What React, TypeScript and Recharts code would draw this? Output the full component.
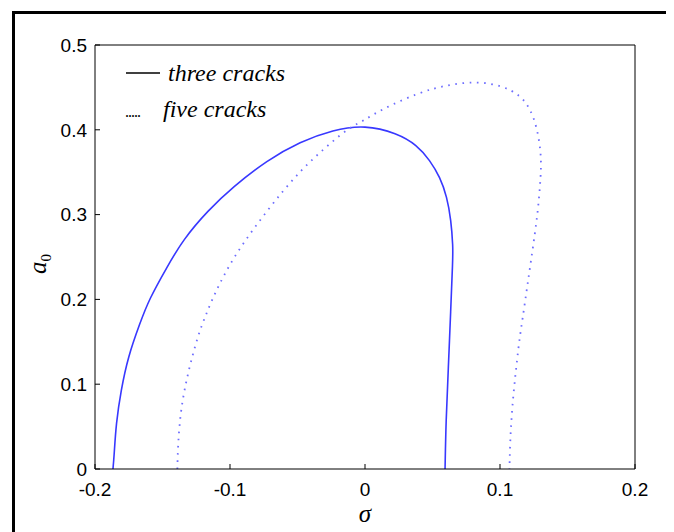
import { LineChart, Line, XAxis, YAxis } from 'recharts'

// three cracks (solid), traced from left foot over the peak to right foot
const threeSigma = [
  -0.1867, -0.1859, -0.1844, -0.1807, -0.1756, -0.1667, -0.1600, -0.1467, -0.135, -0.1163,
  -0.0978, -0.0726, -0.048, -0.0237, 0, 0.0237, 0.0385, 0.0481, 0.0556, 0.0607, 0.0637,
  0.0652, 0.065, 0.0635, 0.0617, 0.06, 0.0593,
]
const threeA0 = [
  0, 0.014, 0.054, 0.093, 0.132, 0.172, 0.2, 0.238, 0.27, 0.305, 0.3325, 0.364, 0.386,
  0.4, 0.4057, 0.396, 0.382, 0.364, 0.344, 0.321, 0.294, 0.262, 0.246, 0.1875, 0.117,
  0.058, 0,
]

// five cracks (dotted)
const fiveSigma = [
  -0.139, -0.1385, -0.1363, -0.1311, -0.1237, -0.1178, -0.1119, -0.0978, -0.0726, -0.048,
  -0.0237, -0.0111, 0, 0.0111, 0.0407, 0.0607, 0.083, 0.1022, 0.1148, 0.1222, 0.1274,
  0.1304, 0.1304, 0.1296, 0.1281, 0.1259, 0.1227, 0.1198, 0.1168, 0.1143, 0.1124, 0.1106,
  0.1091, 0.1081, 0.1074, 0.107,
]
const fiveA0 = [
  0, 0.031, 0.073, 0.114, 0.158, 0.182, 0.205, 0.25, 0.305, 0.3526, 0.387, 0.403, 0.4116,
  0.4233, 0.4446, 0.4528, 0.4575, 0.4517, 0.441, 0.4257, 0.4033, 0.3726, 0.3526, 0.3325,
  0.3054, 0.278, 0.243, 0.211, 0.178, 0.152, 0.125, 0.099, 0.073, 0.0495, 0.026, 0,
]

const xTicks = [-0.2, -0.1, 0, 0.1, 0.2]
const yTicks = [0, 0.1, 0.2, 0.3, 0.4, 0.5]

const zip = (xs: number[], ys: number[]) => xs.map((x, i) => ({ x, y: ys[i] }))
const threeData = zip(threeSigma, threeA0)
const fiveData = zip(fiveSigma, fiveA0)

const SANS = 'Arial, "Liberation Sans", sans-serif'
const SERIF = '"Liberation Serif", "Times New Roman", serif'
const tickStyle = { fill: '#000', fontSize: 19, fontFamily: SANS }

function SigmaLabel({ viewBox }: any) {
  const cx = viewBox.x + viewBox.width / 2
  return (
    <text x={cx} y={514} textAnchor="middle" style={{ fontFamily: SERIF, fontStyle: 'italic', fontSize: 25 }} fill="#000">
      σ
    </text>
  )
}

function A0Label() {
  return (
    <text
      transform="translate(38,256) rotate(-90)"
      textAnchor="middle"
      style={{ fontFamily: SERIF, fontSize: 25 }}
      fill="#000"
    >
      <tspan style={{ fontStyle: 'italic' }}>a</tspan>
      <tspan style={{ fontSize: 15 }} dy={5}>0</tspan>
    </text>
  )
}

const legendText = { fontFamily: SERIF, fontStyle: 'italic', fontSize: 24 }

export default function App() {
  return (
    <div style={{ position: 'relative', width: 666, height: 524, overflow: 'hidden', background: '#fff' }}>
      <div
        style={{
          position: 'absolute',
          left: 4,
          top: 3,
          width: 657,
          height: 600,
          border: '3px solid #000',
          boxSizing: 'border-box',
        }}
      />
      <LineChart
        width={666}
        height={524}
        margin={{ top: 36, right: 38, left: 27, bottom: 33 }}
        style={{ position: 'absolute', left: 0, top: 0 }}
      >
        <XAxis
          dataKey="x"
          type="number"
          domain={[-0.2, 0.2]}
          ticks={xTicks}
          allowDataOverflow
          height={30}
          stroke="#000"
          tickSize={-5}
          tickMargin={19}
          tick={tickStyle}
          label={<SigmaLabel />}
        />
        <XAxis
          xAxisId="top"
          orientation="top"
          dataKey="x"
          type="number"
          domain={[-0.2, 0.2]}
          ticks={xTicks}
          allowDataOverflow
          height={1}
          stroke="#000"
          tickSize={-5}
          tick={false}
        />
        <YAxis
          dataKey="y"
          type="number"
          domain={[0, 0.5]}
          ticks={yTicks}
          allowDataOverflow
          width={60}
          stroke="#000"
          tickSize={-5}
          tickMargin={13}
          tick={tickStyle}
          label={<A0Label />}
        />
        <YAxis
          yAxisId="right"
          orientation="right"
          dataKey="y"
          type="number"
          domain={[0, 0.5]}
          ticks={yTicks}
          allowDataOverflow
          width={1}
          stroke="#000"
          tickSize={-5}
          tick={false}
        />
        {/* invisible series so the top/right box axes are drawn */}
        <Line
          xAxisId="top"
          yAxisId="right"
          data={threeData}
          dataKey="y"
          stroke="none"
          dot={false}
          activeDot={false}
          isAnimationActive={false}
        />
        <Line
          data={threeData}
          dataKey="y"
          type="basis"
          stroke="#3838ff"
          strokeWidth={1.6}
          dot={false}
          isAnimationActive={false}
        />
        <Line
          data={fiveData}
          dataKey="y"
          type="basis"
          stroke="#6d6dff"
          strokeWidth={1.8}
          strokeDasharray="1.6 5.6"
          dot={false}
          isAnimationActive={false}
        />
      </LineChart>
      <svg width={666} height={524} style={{ position: 'absolute', left: 0, top: 0, pointerEvents: 'none' }}>
        <line x1={118} x2={152} y1={65} y2={65} stroke="#000" strokeWidth={1.3} />
        <text x={160} y={73} style={legendText} fill="#000">
          three cracks
        </text>
        <text x={117} y={109} style={{ fontFamily: SERIF, fontSize: 16, letterSpacing: -1 }} fill="#000">
          .....
        </text>
        <text x={155} y={109} style={legendText} fill="#000">
          five cracks
        </text>
      </svg>
    </div>
  )
}
